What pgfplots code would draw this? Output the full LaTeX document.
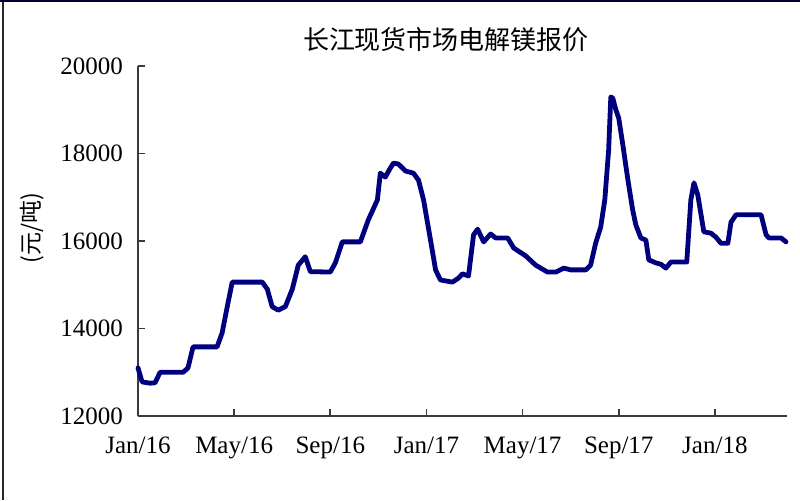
\documentclass[border=0pt]{standalone}
\usepackage{fontspec}
\setmainfont{Liberation Serif}
\newfontfamily\cjk{Noto Sans CJK SC}
\usepackage{pgfplots}
\pgfplotsset{compat=1.18}
\definecolor{linenavy}{HTML}{00007F}
\definecolor{axgray}{HTML}{3A3A3A}
\begin{document}
\begin{tikzpicture}
\useasboundingbox (0,0) rectangle (400pt,250pt);
\draw[black!85, line width=0.9pt] (1.5pt,0pt) -- (1.5pt,249.5pt);
\draw[black!70!blue!60!black, line width=1.2pt] (0pt,249.4pt) -- (400pt,249.4pt);
\node[font=\cjk\fontsize{13}{15}\selectfont, anchor=center] at (223pt,230pt) {长江现货市场电解镁报价};
\node[font=\cjk\fontsize{11.5}{13}\selectfont, rotate=90, anchor=center] at (16pt,136pt) {(元/吨)};
\begin{axis}[
  at={(69pt,42pt)}, anchor=south west,
  scale only axis, width=324.5pt, height=175pt,
  xmin=0, xmax=27, ymin=12000, ymax=20000,
  axis lines*=left,
  axis line style={axgray, line width=0.8pt},
  tick style={axgray, line width=0.8pt},
  major tick length=3.5pt,
  tick align=inside,
  xtick={0,4,8,12,16,20,24},
  xticklabels={Jan/16,May/16,Sep/16,Jan/17,May/17,Sep/17,Jan/18},
  ytick={12000,14000,16000,18000,20000},
  /pgf/number format/fixed,
  /pgf/number format/set thousands separator={},
  /pgf/number format/assume math mode=true,
  ticklabel style={font=\fontsize{12.5}{14}\selectfont, text=black},
  xticklabel style={yshift=-7pt},
  yticklabel style={xshift=-4pt},
  scaled y ticks=false,
  clip=false,
]
\addplot[linenavy, line width=2.4pt, line join=round, line cap=round] coordinates {
(0,13100) (0.17,12780) (0.5,12750) (0.71,12760) (0.92,13000) (1.88,13000)
(2.08,13100) (2.29,13580) (3.29,13580) (3.5,13900) (3.75,14600) (3.92,15060)
(5.17,15060) (5.38,14900) (5.58,14500) (5.83,14420) (6.13,14500) (6.42,14900)
(6.67,15450) (6.96,15640) (7.17,15300) (8.0,15290) (8.21,15500) (8.5,15980)
(9.25,15980) (9.58,16480) (9.96,16940) (10.08,17550) (10.29,17460) (10.5,17670)
(10.63,17780) (10.83,17760) (11.13,17600) (11.46,17550) (11.67,17390) (11.88,16940)
(12.17,16020) (12.38,15340) (12.58,15110) (13.08,15060) (13.33,15150) (13.5,15250)
(13.75,15200) (13.96,16140) (14.13,16270) (14.38,15980) (14.67,16160) (14.88,16070)
(15.38,16070) (15.63,15840) (16.13,15660) (16.54,15450) (16.88,15340) (17.04,15290)
(17.38,15290) (17.71,15380) (18.0,15340) (18.63,15340) (18.83,15450) (19.04,15950)
(19.25,16320) (19.42,16940) (19.58,18080) (19.67,19290) (19.75,19270) (19.88,19000)
(20.0,18810) (20.17,18200) (20.38,17400) (20.58,16710) (20.71,16370) (20.92,16070)
(21.13,16020) (21.25,15570) (21.54,15500) (21.75,15470) (21.96,15380) (22.17,15520)
(22.83,15520) (23.0,16940) (23.13,17330) (23.29,17050) (23.54,16210) (23.83,16180)
(24.04,16090) (24.25,15950) (24.54,15950) (24.67,16430) (24.88,16600) (25.92,16600)
(26.13,16140) (26.25,16070) (26.75,16070) (26.96,15980)
};
\end{axis}
\end{tikzpicture}
\end{document}
